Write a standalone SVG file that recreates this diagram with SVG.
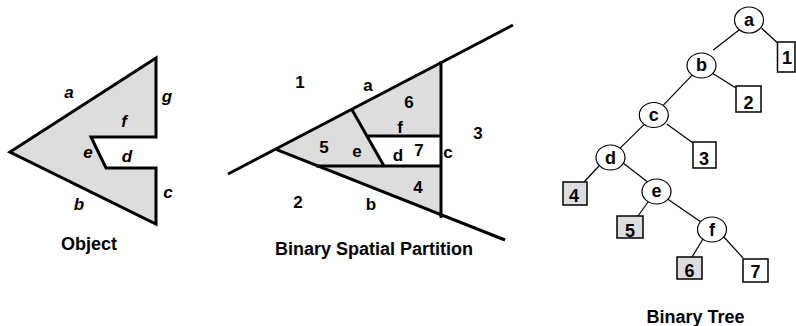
<svg xmlns="http://www.w3.org/2000/svg" width="796" height="326" viewBox="0 0 796 326">
<style>
text{font-family:"Liberation Sans",Arial,Helvetica,sans-serif;font-weight:bold;fill:#000;text-anchor:middle}
.lbl{font-size:17px}
.it{font-style:italic}
.cap{font-size:18px}
.tl{font-size:18px}
.shape{fill:#dddddd;stroke:#000;stroke-width:3;stroke-linejoin:miter}
.bsp{stroke:#000;stroke-width:3;fill:none}
.edge{stroke:#000;stroke-width:1.2;fill:none}
.node{fill:#fff;stroke:#000;stroke-width:1.2}
.leaf{fill:#fff;stroke:#000;stroke-width:1.5}
.leafg{fill:#dddddd;stroke:#000;stroke-width:1.5}
</style>

<g id="object">
<polygon class="shape" points="10,152 156,58 156,137 91,137 106,168 156,168 156,224"/>
<text class="lbl it" x="69" y="98">a</text>
<text class="lbl it" x="167" y="102">g</text>
<text class="lbl it" x="124" y="127">f</text>
<text class="lbl it" x="88" y="158">e</text>
<text class="lbl it" x="127" y="162">d</text>
<text class="lbl it" x="168" y="198">c</text>
<text class="lbl it" x="79" y="210">b</text>
<text class="cap" x="89" y="250">Object</text>
</g>

<g id="bsp">
<polygon points="276,149.3 441,62.6 441,214.7" fill="#dddddd"/>
<polygon points="367,136 441,136 441,166 384,166" fill="#fff"/>
<line class="bsp" x1="228" y1="174" x2="513" y2="25"/>
<line class="bsp" x1="276" y1="149.3" x2="505" y2="240"/>
<line class="bsp" x1="441" y1="61" x2="441" y2="218"/>
<line class="bsp" x1="351.7" y1="109.3" x2="384" y2="166"/>
<line class="bsp" x1="367" y1="136" x2="441" y2="136"/>
<line class="bsp" x1="316" y1="166" x2="441" y2="166"/>
<text class="lbl" x="300" y="88">1</text>
<text class="lbl" x="368" y="91">a</text>
<text class="lbl" x="409" y="107.5">6</text>
<text class="lbl" x="400" y="133">f</text>
<text class="lbl" x="478" y="139">3</text>
<text class="lbl" x="324" y="152.5">5</text>
<text class="lbl" x="357" y="157">e</text>
<text class="lbl" x="398" y="160.5">d</text>
<text class="lbl" x="419" y="156">7</text>
<text class="lbl" x="448" y="157.5">c</text>
<text class="lbl" x="418" y="192.5">4</text>
<text class="lbl" x="298" y="207.5">2</text>
<text class="lbl" x="371" y="209.5">b</text>
<text class="cap" x="374" y="255">Binary Spatial Partition</text>
</g>

<g id="connectors">
<line class="edge" x1="740" y1="29.3" x2="713.3" y2="50"/>
<line class="edge" x1="761.7" y1="28.3" x2="777.3" y2="42.7"/>
<line class="edge" x1="692.2" y1="75.1" x2="663.1" y2="105.4"/>
<line class="edge" x1="712" y1="73" x2="736" y2="88"/>
<line class="edge" x1="644.2" y1="124.4" x2="620.1" y2="148.1"/>
<line class="edge" x1="666.7" y1="124" x2="692.7" y2="142.7"/>
<line class="edge" x1="599" y1="166" x2="584" y2="182"/>
<line class="edge" x1="623" y1="163" x2="649" y2="183"/>
<line class="edge" x1="648" y1="202" x2="638" y2="216"/>
<line class="edge" x1="667.9" y1="199.3" x2="700.6" y2="221.7"/>
<line class="edge" x1="703" y1="239" x2="692" y2="257"/>
<line class="edge" x1="723" y1="236" x2="743" y2="258"/>
</g>

<g id="node-a"><ellipse class="node" cx="749" cy="20" rx="14.5" ry="13"/><text class="tl" x="749" y="26">a</text></g>
<g id="node-b"><ellipse class="node" cx="701.5" cy="65.5" rx="14.5" ry="12.5"/><text class="tl" x="701.5" y="71">b</text></g>
<g id="node-c"><ellipse class="node" cx="653.8" cy="115" rx="14.5" ry="12.5"/><text class="tl" x="653.8" y="120.5">c</text></g>
<g id="node-d"><ellipse class="node" cx="610.5" cy="157.5" rx="14.5" ry="12.5"/><text class="tl" x="610.5" y="164">d</text></g>
<g id="node-e"><ellipse class="node" cx="656.5" cy="191.5" rx="14.5" ry="12.5"/><text class="tl" x="656.5" y="197">e</text></g>
<g id="node-f"><ellipse class="node" cx="712" cy="229.5" rx="14.5" ry="12.5"/><text class="tl" x="712" y="236">f</text></g>

<g id="leaf-1"><rect class="leaf" x="777.5" y="42" width="17.5" height="30"/><text class="tl" x="787" y="64">1</text></g>
<g id="leaf-2"><rect class="leaf" x="736" y="86" width="25" height="26"/><text class="tl" x="748.5" y="109">2</text></g>
<g id="leaf-3"><rect class="leaf" x="693" y="142" width="23" height="26"/><text class="tl" x="704" y="165">3</text></g>
<g id="leaf-4"><rect class="leafg" x="563" y="182" width="24" height="23"/><text class="tl" x="574" y="201.5">4</text></g>
<g id="leaf-5"><rect class="leafg" x="617" y="216" width="26" height="22"/><text class="tl" x="630" y="236.5">5</text></g>
<g id="leaf-6"><rect class="leafg" x="677" y="257" width="25" height="22"/><text class="tl" x="689.5" y="276.5">6</text></g>
<g id="leaf-7"><rect class="leaf" x="743" y="259" width="25" height="23"/><text class="tl" x="755.5" y="278">7</text></g>

<text class="cap" x="695.5" y="322.5">Binary Tree</text>
</svg>
